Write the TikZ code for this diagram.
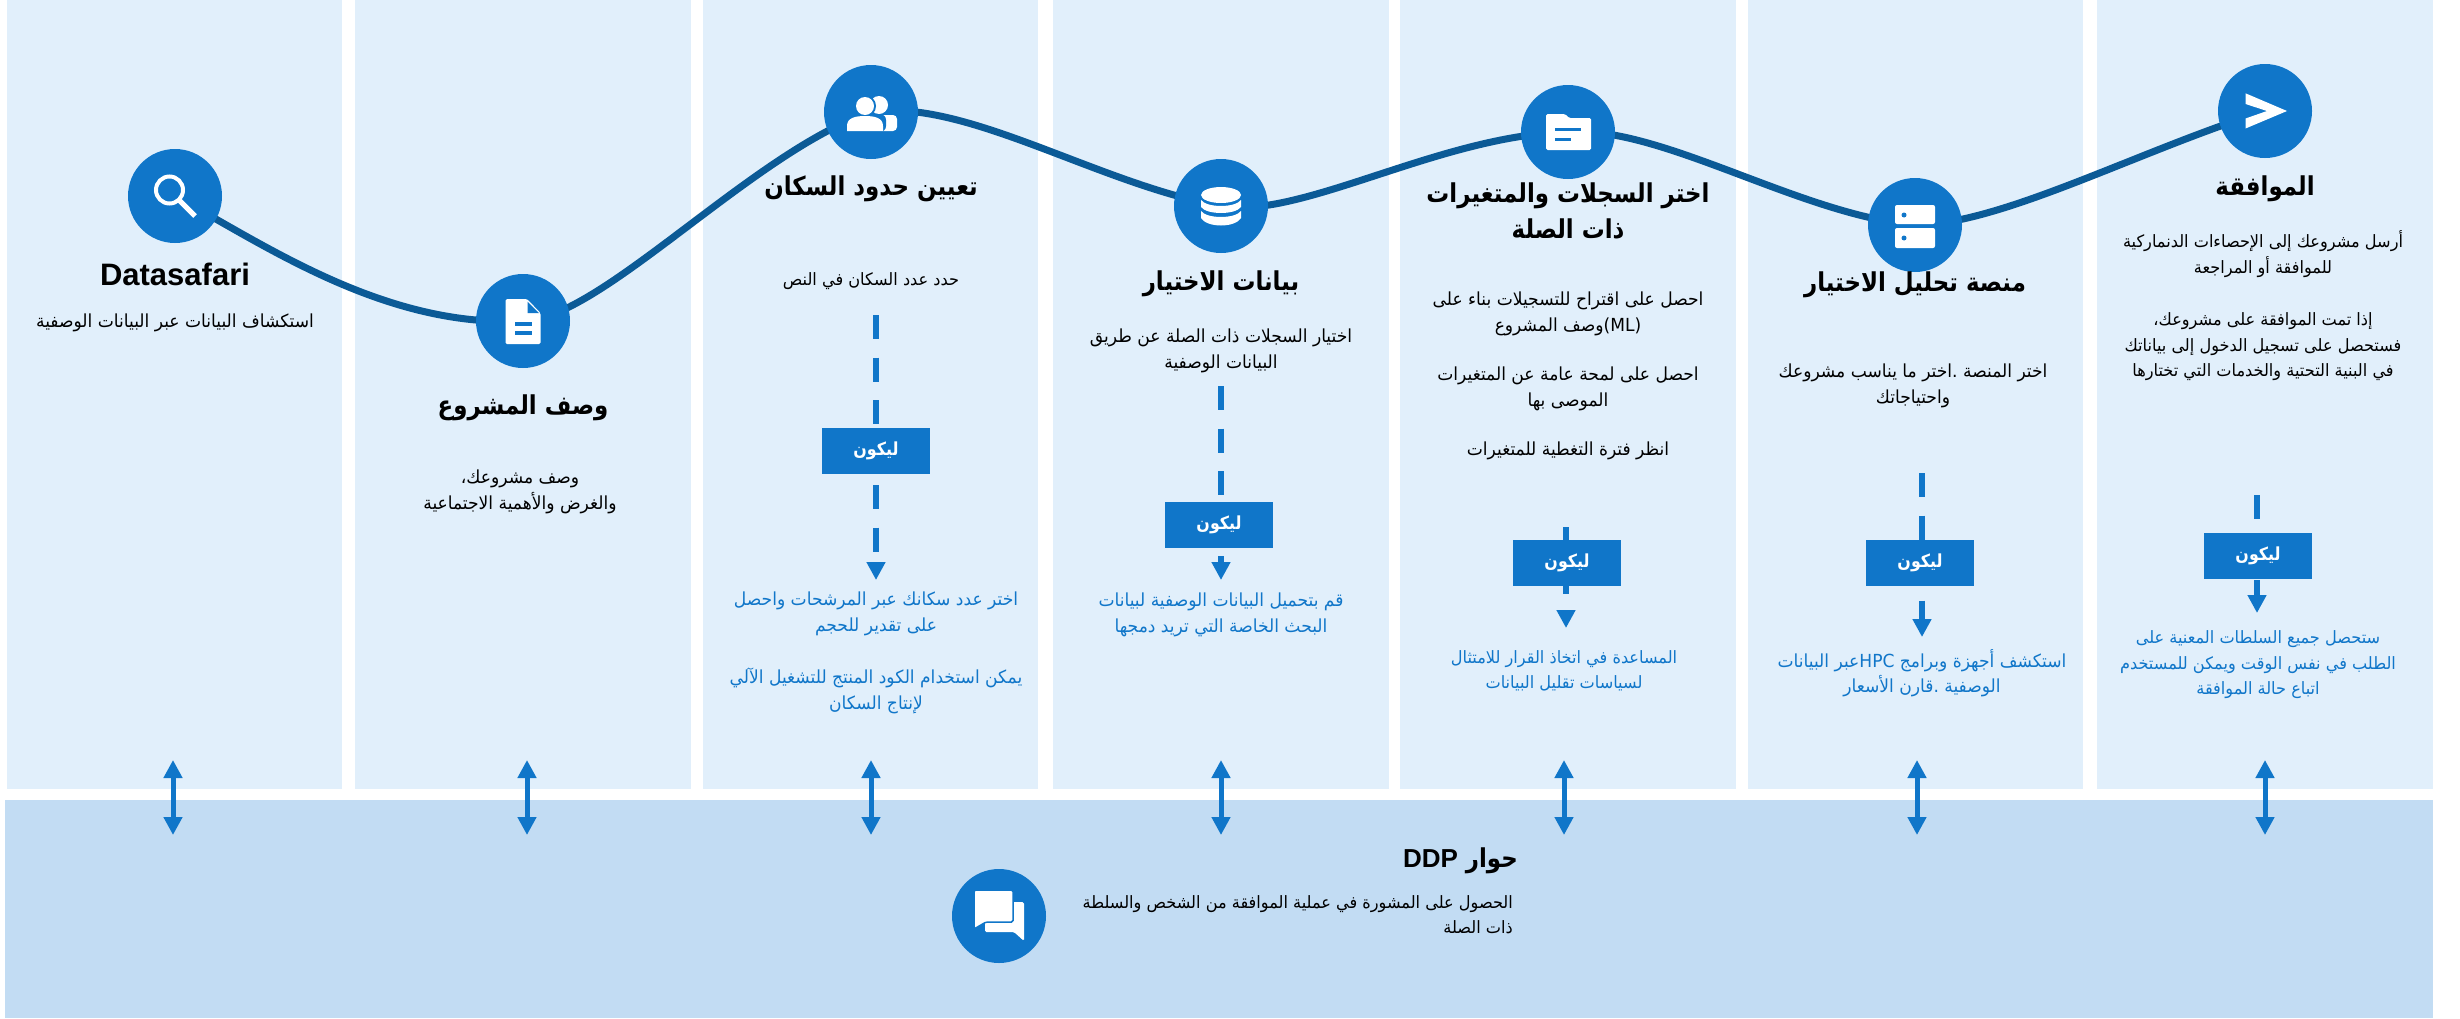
\documentclass[tikz,border=0pt]{standalone}
\usepackage{fontspec}
\usepackage{tikz}
\usetikzlibrary{arrows.meta,positioning,backgrounds}
\setmainfont{Liberation Sans}
\newfontfamily\arabicfont[Script=Arabic,FakeStretch=0.95,BoldFeatures={FakeStretch=0.88}]{DejaVu Sans}
\TeXXeTstate=1
\newcommand{\ar}[1]{\beginR #1\endR}
\definecolor{stepblue}{HTML}{1076C9}
\definecolor{pathblue}{HTML}{0B5A96}
\definecolor{colfill}{HTML}{E1EFFB}
\definecolor{bandfill}{HTML}{C2DCF3}

\begin{document}
\begin{tikzpicture}[x=1pt,y=-1pt,
		colbox/.style    = {rectangle, fill=colfill, inner sep=0pt, outer sep=0pt, minimum height=789pt},
		circ/.style      = {circle, fill=stepblue, inner sep=0pt, minimum size=94pt},
		heading/.style   = {align=center, inner sep=0pt, font=\arabicfont\bfseries\fontsize{26}{36}\selectfont},
		bodytext/.style  = {align=center, inner sep=0pt, font=\arabicfont\fontsize{18}{25.5}\selectfont},
		smaller/.style   = {font=\arabicfont\fontsize{17}{25.5}\selectfont},
		result/.style    = {bodytext, text=stepblue},
		gobox/.style     = {rectangle, fill=stepblue, inner sep=0pt, minimum width=108pt, minimum height=46pt, text=white, font=\arabicfont\bfseries\fontsize{18}{20}\selectfont},
		flow/.style      = {stepblue, line width=6pt, dash pattern=on 24pt off 18.5pt},
		tip/.style       = {-{Triangle[length=18pt,width=18pt]}},
		dialog/.style    = {stepblue, line width=5pt, {Triangle[length=18pt,width=18pt]}-{Triangle[length=18pt,width=18pt]}},
		icon/.style      = {fill=white, draw=none},
		cut/.style       = {fill=stepblue, draw=none}]
		\useasboundingbox (0,0) rectangle (2460,1018);
		
		% the steps along the curve
		\node[circ] (c1) at (175,196) {};
		\node[circ] (c2) at (523,321) {};
		\node[circ] (c3) at (871,112) {};
		\node[circ] (c4) at (1221,206) {};
		\node[circ] (c5) at (1568,132) {};
		\node[circ] (c6) at (1915,225) {};
		\node[circ] (c7) at (2265,111) {};
		
		% columns, band and curve behind the steps
		\begin{scope}[on background layer]
			\foreach \value/\xc/\w in {1/174.5/335,2/523/336,3/870.5/335,4/1221/336,5/1568/336,6/1915.5/335,7/2265/336}
			\node[colbox, minimum width=\w pt] (col\value) at (\xc,394.5) {};
			\fill[bandfill] (5,800) rectangle (2433,1018);
			\draw[pathblue, line width=7pt] (c1.center)
			.. controls (265,245) and (385,328) .. (c2.center)
			.. controls (600,320) and (755,150) .. (c3.center)
			.. controls (965,98) and (1100,185) .. (c4.center)
			.. controls (1300,220) and (1440,135) .. (c5.center)
			.. controls (1660,125) and (1800,215) .. (c6.center)
			.. controls (2000,225) and (2140,150) .. (c7.center);
		\end{scope}
		
		% titles
		\node[heading, font=\bfseries\fontsize{31}{36}\selectfont, node distance=78pt, below of = c1] (t1) {Datasafari};
		\node[heading, node distance=87pt, below of = c2] (t2) {\ar{وصف المشروع}};
		\node[heading, node distance=77pt, below of = c3] (t3) {\ar{تعيين حدود السكان}};
		\node[heading, node distance=78pt, below of = c4] (t4) {\ar{بيانات الاختيار}};
		\node[heading, node distance=79pt, below of = c5] (t5) {\ar{اختر السجلات والمتغيرات}\\ \ar{ذات الصلة}};
		\node[heading, node distance=60pt, below of = c6] (t6) {\ar{منصة تحليل الاختيار}};
		\node[heading, node distance=78pt, below of = c7] (t7) {\ar{الموافقة}};
		
		% black texts under the titles
		\node[bodytext, node distance=49pt, below of = t1] (b1) {\ar{استكشاف البيانات عبر البيانات الوصفية}};
		\node[bodytext, node distance=84pt, below of = t2, xshift=-3pt] (b2) {\ar{وصف مشروعك،}\\ \ar{والغرض والأهمية الاجتماعية}};
		\node[bodytext, smaller, node distance=92pt, below of = t3] (b3) {\ar{حدد عدد السكان في النص}};
		\node[bodytext, node distance=67pt, below of = t4] (b4) {\ar{اختيار السجلات ذات الصلة عن طريق}\\ \ar{البيانات الوصفية}};
		\node[bodytext, node distance=165pt, below of = t5] (b5) {\ar{احصل على اقتراح للتسجيلات بناء على}\\ \ar{\beginL(ML)\endL وصف المشروع}\\[24pt]
			\ar{احصل على لمحة عامة عن المتغيرات}\\ \ar{الموصى بها}\\[24pt] \ar{انظر فترة التغطية للمتغيرات}};
		\node[bodytext, node distance=101pt, below of = t6, xshift=-2pt] (b6) {\ar{اختر المنصة .اختر ما يناسب مشروعك}\\ \ar{واحتياجاتك}};
		\node[bodytext, smaller, node distance=117pt, below of = t7, xshift=-2pt] (b7) {\ar{أرسل مشروعك إلى الإحصاءات الدنماركية}\\ \ar{للموافقة أو المراجعة}\\[27pt]
			\ar{إذا تمت الموافقة على مشروعك،}\\ \ar{فستحصل على تسجيل الدخول إلى بياناتك}\\ \ar{في البنية التحتية والخدمات التي تختارها}};
		
		% the go boxes
		\node[gobox] (g3) at (876,451) {\ar{ليكون}};
		\node[gobox] (g4) at (1219,525) {\ar{ليكون}};
		\node[gobox] (g5) at (1567,563) {\ar{ليكون}};
		\node[gobox] (g6) at (1920,563) {\ar{ليكون}};
		\node[gobox] (g7) at (2258,556) {\ar{ليكون}};
		
		% blue texts under the boxes
		\begin{scope}[every node/.style={result}]
			\node [node distance=202pt, below of = g3] (r3) {\ar{اختر عدد سكانك عبر المرشحات واحصل}\\ \ar{على تقدير للحجم}\\[27pt]
				\ar{يمكن استخدام الكود المنتج للتشغيل الآلي}\\ \ar{لإنتاج السكان}};
			\node [node distance=90pt, below of = g4, xshift=2pt] (r4) {\ar{قم بتحميل البيانات الوصفية لبيانات}\\ \ar{البحث الخاصة التي تريد دمجها}};
			\node [smaller, node distance=108pt, below of = g5, xshift=-3pt] (r5) {\ar{المساعدة في اتخاذ القرار للامتثال}\\ \ar{لسياسات تقليل البيانات}};
			\node [node distance=110pt, below of = g6, xshift=2pt] (r6) {\ar{استكشف أجهزة وبرامج  \beginL HPC\endL عبر البيانات}\\ \ar{الوصفية .قارن الأسعار}};
			\node [smaller, node distance=109pt, below of = g7] (r7) {\ar{ستحصل جميع السلطات المعنية على}\\ \ar{الطلب في نفس الوقت ويمكن للمستخدم}\\ \ar{اتباع حالة الموافقة}};
		\end{scope}
		
		% flow lines, the boxes sit on them
		\coordinate (d3) at (876,315);
		\coordinate (e3) at (876,580);
		\coordinate (d4) at (1221,386);
		\coordinate (e4) at (1221,580);
		\coordinate (d5) at (1566,527);
		\coordinate (e5) at (1566,628);
		\coordinate (d6) at (1922,473);
		\coordinate (e6) at (1922,637);
		\coordinate (d7) at (2257,495);
		\coordinate (e7) at (2257,613);
		\begin{scope}[on background layer]
			\foreach \value in {3,...,7}
			\draw[flow, tip] (d\value) -- (e\value);
		\end{scope}
		
		% arrows between the columns and the band
		\foreach \value/\xa in {1/173,2/527,3/871,4/1221,5/1564,6/1917,7/2265} {
			\coordinate (u\value) at (\xa,760);
			\coordinate (v\value) at (\xa,835);
			\draw[dialog] (u\value) -- (v\value);
		}
		
		% the band
		\node[circ] (c8) at (999,916) {};
		\node[heading, anchor=east] (t8) at (1518,861) {\ar{حوار \beginL{\normalfont\bfseries\fontsize{26}{36}\selectfont DDP}\endL}};
		\node[bodytext, smaller, align=right, anchor=north east] (b8) at (1513,895) {\ar{الحصول على المشورة في عملية الموافقة من الشخص والسلطة}\\ \ar{ذات الصلة}};
		
		% icons
		\begin{scope}[shift={(c1.center)}]
			\draw[white, line width=4pt] (-5.5,-6) circle (13.5);
			\draw[white, line width=5pt] (4,4) -- (20,20);
		\end{scope}
		\begin{scope}[shift={(c2.center)}]
			\fill[icon, rounded corners=1.5pt] (-17.5,-22) -- (4,-22) -- (17.5,-8) -- (17.5,23) -- (-17.5,23) -- cycle;
			\fill[cut] (4.5,-19.5) -- (4.5,-8) -- (16,-8) -- cycle;
			\fill[cut] (-8,1) rectangle (9,4.5);
			\fill[cut] (-8,10) rectangle (9,13.5);
		\end{scope}
		\begin{scope}[shift={(c3.center)}]
			\fill[icon] (8,-7) circle (9);
			\fill[icon, rounded corners=4pt] (8,3) -- (26,3) -- (26,19) -- (8,19) -- cycle;
			\fill[cut] (-6,-6) circle (11);
			\fill[cut, rounded corners=6pt] (-27,19) -- (-27,2) -- (15,2) -- (15,20) -- cycle;
			\fill[icon] (-6,-6) circle (9);
			\fill[icon] (-24,19) -- (-24,14) .. controls (-24,6) and (-16,4) .. (-6,4) .. controls (4,4) and (12,6) .. (12,14) -- (12,19) -- cycle;
		\end{scope}
		\begin{scope}[shift={(c4.center)}]
			\fill[icon] (0,-11) ellipse (20 and 8);
			\fill[icon] (-20,-6) .. controls (-14,2) and (14,2) .. (20,-6) -- (20,1) .. controls (14,9) and (-14,9) .. (-20,1) -- cycle;
			\fill[icon] (-20,5) .. controls (-14,13) and (14,13) .. (20,5) -- (20,12) .. controls (14,22) and (-14,22) .. (-20,12) -- cycle;
		\end{scope}
		\begin{scope}[shift={(c5.center)}]
			\fill[icon, rounded corners=1.5pt] (-22,-18) -- (-3,-18) -- (1,-14) -- (23,-14) -- (23,18) -- (-22,18) -- cycle;
			\fill[cut] (-13,-4.5) rectangle (13,-1.5);
			\fill[cut] (-13,5.5) rectangle (3,8.5);
		\end{scope}
		\begin{scope}[shift={(c6.center)}]
			\fill[icon, rounded corners=2pt] (-20,-20) rectangle (20,-1);
			\fill[icon, rounded corners=2pt] (-20,3) rectangle (20,23);
			\fill[cut] (-11,-10) circle (2.5);
			\fill[cut] (-11,13) circle (2.5);
		\end{scope}
		\begin{scope}[shift={(c7.center)}]
			\fill[icon] (-19.5,-17.7) -- (22,0) -- (-19.5,17.5) -- (-19.5,7.5) -- (2,0) -- (-19.5,-7) -- cycle;
		\end{scope}
		\begin{scope}[shift={(c8.center)}]
			\fill[icon, rounded corners=1.5pt] (-5,-14) -- (25,-14) -- (25,25) -- (15,16) -- (-14,16) -- (-14,5) -- cycle;
			\filldraw[white, draw=stepblue, line width=1.5pt, rounded corners=1.5pt] (-25,-26) -- (14,-26) -- (14,6) -- (-13,6) -- (-25,13) -- cycle;
		\end{scope}
		
	\end{tikzpicture}
\end{document}
